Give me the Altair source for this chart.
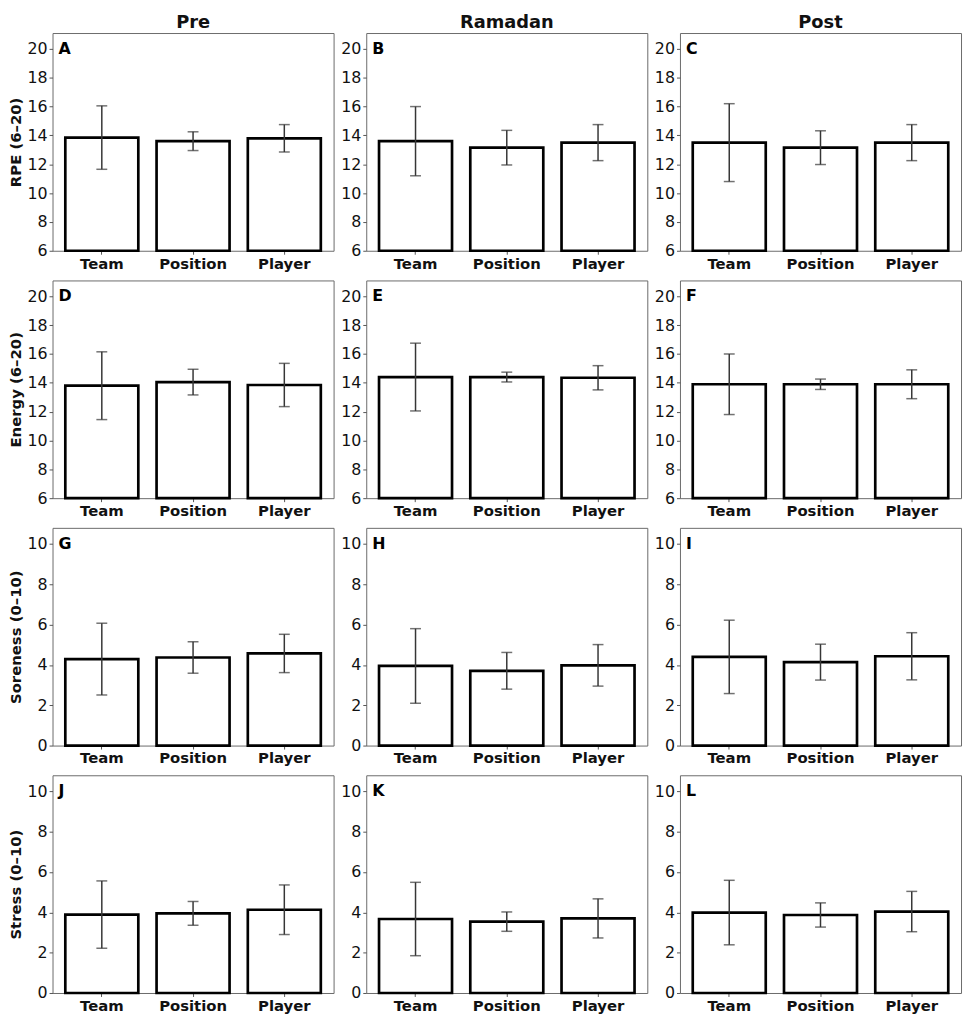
import altair as alt
import pandas as pd

phases = ["Pre", "Ramadan", "Post"]
levels = ["Team", "Position", "Player"]
measures = ["RPE (6–20)", "Energy (6–20)", "Soreness (0–10)", "Stress (0–10)"]
letters = ["A", "B", "C", "D", "E", "F", "G", "H", "I", "J", "K", "L"]

# mean per [phase][level]
rpe_mean = [[13.85, 13.60, 13.80], [13.60, 13.15, 13.50], [13.50, 13.15, 13.50]]
rpe_sd = [[2.20, 0.65, 0.95], [2.40, 1.20, 1.25], [2.70, 1.17, 1.25]]
energy_mean = [[13.80, 14.05, 13.85], [14.40, 14.40, 14.35], [13.90, 13.90, 13.90]]
energy_sd = [[2.35, 0.89, 1.50], [2.35, 0.34, 0.84], [2.10, 0.36, 1.00]]
soreness_mean = [[4.29, 4.37, 4.57], [3.95, 3.71, 3.98], [4.40, 4.14, 4.43]]
soreness_sd = [[1.78, 0.78, 0.95], [1.85, 0.91, 1.03], [1.82, 0.89, 1.17]]
stress_mean = [[3.89, 3.95, 4.13], [3.67, 3.54, 3.70], [3.99, 3.87, 4.04]]
stress_sd = [[1.67, 0.59, 1.23], [1.82, 0.48, 0.97], [1.60, 0.60, 1.00]]

y_domains = [[6, 21.1], [6, 21.1], [0, 10.8], [0, 10.8]]
y_ticks = [[6, 8, 10, 12, 14, 16, 18, 20], [6, 8, 10, 12, 14, 16, 18, 20],
           [0, 2, 4, 6, 8, 10], [0, 2, 4, 6, 8, 10]]

means = [rpe_mean, energy_mean, soreness_mean, stress_mean]
sds = [rpe_sd, energy_sd, soreness_sd, stress_sd]

W, H = 284, 220
ERR = "#363636"


def panel(r, c):
    m = means[r][c]
    s = sds[r][c]
    df = pd.DataFrame({
        "level": levels,
        "mean": m,
        "lo": [a - b for a, b in zip(m, s)],
        "hi": [a + b for a, b in zip(m, s)],
    })
    title = measures[r] if c == 0 else ""
    xs = alt.X("level:N", sort=levels,
               scale=alt.Scale(paddingInner=0.2, paddingOuter=0.14),
               axis=alt.Axis(title=None, labelAngle=0, labelFontWeight="bold",
                             labelFontSize=15, labelColor="#111", tickColor="#555",
                             tickSize=3.5, labelPadding=2, domain=False))
    yscale = alt.Scale(domain=y_domains[r], nice=False, zero=False)
    yaxis = alt.Axis(values=y_ticks[r], title=title if title else None,
                     titleFontSize=15, titleFontWeight="bold",
                     titleColor="#111", titlePadding=3,
                     labelFontSize=16, labelColor="#111",
                     labelOverlap=False, tickCount=len(y_ticks[r]),
                     tickColor="#555", tickSize=3.5, labelPadding=2,
                     grid=False, domain=False)

    def Y(field):
        return alt.Y(field, type="quantitative", scale=yscale, axis=yaxis)

    base = alt.Chart(df)
    bars = base.mark_bar(fill="white", stroke="black", strokeWidth=2.7).encode(
        x=xs, y=Y("mean"), y2=alt.datum(y_domains[r][0]))
    rule = base.mark_rule(color=ERR, strokeWidth=1.5).encode(
        x=xs, y=Y("lo"), y2="hi:Q")
    cap_hi = base.mark_tick(color=ERR, thickness=1.5, size=11).encode(x=xs, y=Y("hi"))
    cap_lo = base.mark_tick(color=ERR, thickness=1.5, size=11).encode(x=xs, y=Y("lo"))
    lab = alt.Chart(pd.DataFrame({"t": [letters[r * 3 + c]]})).mark_text(
        align="left", baseline="middle", fontWeight="bold", fontSize=16,
        color="black").encode(text="t:N", x=alt.value(6),
                              y=alt.YDatum(y_ticks[r][-1], type="quantitative",
                                           scale=yscale, axis=yaxis))
    ch = alt.layer(bars, rule, cap_hi, cap_lo, lab).properties(width=W, height=H)
    if r == 0:
        ch = ch.properties(title=alt.TitleParams(phases[c], fontSize=18,
                                                 fontWeight="bold", color="#111",
                                                 offset=1, anchor="middle"))
    return ch


panels = [panel(r, c) for r in range(4) for c in range(3)]
chart = alt.concat(*panels, columns=3, spacing=alt.RowColnumber(row=30, column=33),
                   bounds="flush").properties(
    padding={"left": 0, "top": 0, "right": 2, "bottom": 2}
).configure(font="DejaVu Sans").configure_view(
    stroke="#6a6a6a", strokeWidth=1
).configure_axis(labelOverlap=False)

chart.save("out.html", embed_options={"renderer": "svg", "actions": False})
